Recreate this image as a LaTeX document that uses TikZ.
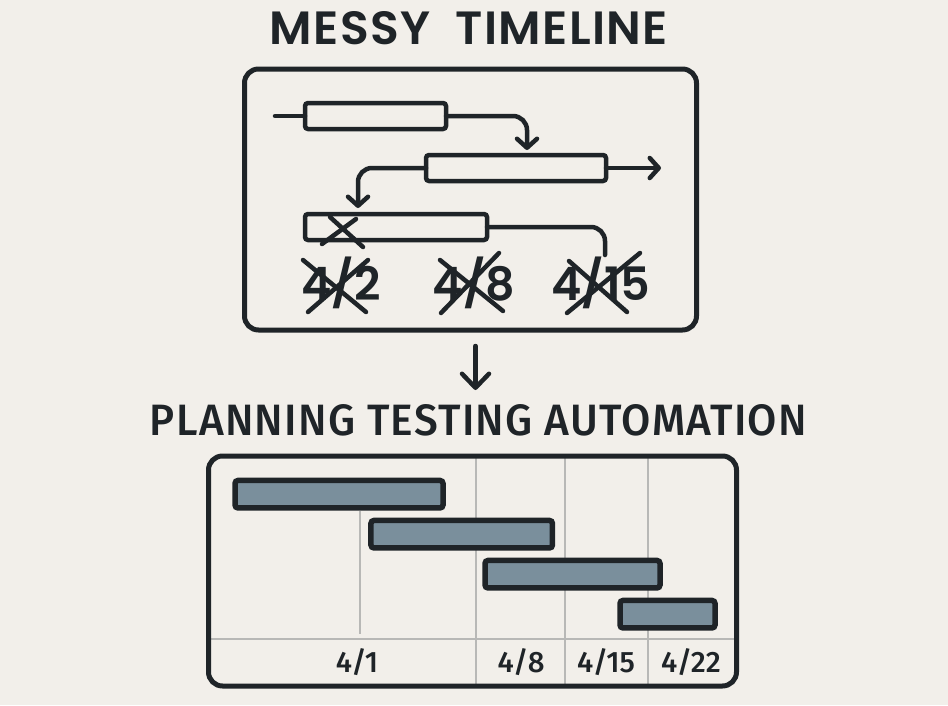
\documentclass[tikz,border=0pt]{standalone}
\usepackage{fontspec}
\setmainfont{Fira Sans Medium}
\newfontfamily\titlefont[LetterSpace=3]{Poppins SemiBold}
\newfontfamily\datefont{Poppins SemiBold}
\newfontfamily\subfont[LetterSpace=3]{Fira Sans Medium}
\usetikzlibrary{arrows.meta}
\definecolor{ink}{HTML}{1F2428}
\definecolor{paper}{HTML}{F2EFEA}
\definecolor{slate}{HTML}{7A8F9C}
\definecolor{gridc}{HTML}{B8B8B6}
\tikzset{
  x=1pt,y=-1pt,
  frame/.style={draw=ink,line width=5pt,rounded corners=14pt},
  plainbar/.style={draw=ink,line width=4.5pt,rounded corners=3pt,fill=paper,inner sep=0pt,outer sep=0pt},
  ganttbar/.style={draw=ink,line width=5.5pt,rounded corners=3pt,fill=slate,inner sep=0pt,outer sep=0pt},
  link/.style={draw=ink,line width=4.5pt,line cap=round,rounded corners=14pt},
  linkarrow/.style={link,-{Straight Barb[length=9pt,width=20pt,line width=4.5pt,round]}},
  bigarrow/.style={link,-{Straight Barb[length=14pt,width=27pt,line width=4.5pt,round]}},
  strike/.style={draw=ink,line width=4.5pt,line cap=round},
  gridline/.style={draw=gridc,line width=1.8pt},
  titletext/.style={text=ink,anchor=base,inner sep=0pt},
  datetext/.style={text=ink,anchor=base,inner sep=0pt,font=\datefont\fontsize{46}{50}\selectfont},
  axistext/.style={text=ink,anchor=base,inner sep=0pt,font=\fontsize{29.5}{32}\selectfont},
}
\begin{document}
\begin{tikzpicture}
\useasboundingbox[fill=paper] (0,0) rectangle (948,705);
\node[titletext] (title) at (469,44.5) {\resizebox{398pt}{33pt}{\titlefont MESSY\hspace{0.25em} TIMELINE}};
\node[titletext] (subtitle) at (478.5,435) {\resizebox{657pt}{31pt}{\subfont PLANNING TESTING AUTOMATION}};
% upper frame
\draw[frame] (244.5,69) rectangle (696.5,330);
\node[plainbar,minimum width=141pt,minimum height=26pt] (b1) at (375.5,116) {};
\node[plainbar,minimum width=180pt,minimum height=26pt] (b2) at (516,168) {};
\node[plainbar,minimum width=182pt,minimum height=26pt] (b3) at (396,227) {};
\coordinate (s0) at (275,116);
\coordinate (t1) at (527,150);
\coordinate (t2) at (661,168);
\coordinate (t3) at (358,208);
\coordinate (e3) at (605,255);
\draw[link] (s0) -- (b1.west);
\draw[linkarrow] (b1.east) -- (b1.east -| t1) -- (t1);
\draw[linkarrow] (b2.east) -- (t2);
\draw[linkarrow] (b2.west) -- (b2.west -| t3) -- (t3);
\draw[link] (b3.east) -- (b3.east -| e3) -- (e3);
\coordinate (xa) at (330,217); \coordinate (xb) at (363,247);
\coordinate (xc) at (356,219); \coordinate (xd) at (322,244);
\draw[strike] (xa) -- (xb); \draw[strike] (xc) -- (xd);
\node[datetext] (d1) at (341,300) {4/2};
\node[datetext] (d2) at (474,300) {4/8};
\node[datetext] (d3) at (601,300) {4/15};
\coordinate (a1) at (303,260); \coordinate (a2) at (366,312);
\coordinate (a3) at (368,260); \coordinate (a4) at (308,312);
\coordinate (c1) at (440,260); \coordinate (c2) at (503,311);
\coordinate (c3) at (499,253); \coordinate (c4) at (441,313);
\coordinate (f1) at (569,261); \coordinate (f2) at (627,312);
\coordinate (f3) at (640,253); \coordinate (f4) at (567,313);
\draw[strike] (a1) -- (a2); \draw[strike] (a3) -- (a4);
\draw[strike] (c1) -- (c2); \draw[strike] (c3) -- (c4);
\draw[strike] (f1) -- (f2); \draw[strike] (f3) -- (f4);
% middle arrow
\coordinate (m1) at (475.5,346); \coordinate (m2) at (475.5,390);
\draw[bigarrow] (m1) -- (m2);
% lower frame
\draw[gridline] (360.3,511) -- (360.3,634);
\draw[gridline] (475.7,456) -- (475.7,686);
\draw[gridline] (564.8,456) -- (564.8,686);
\draw[gridline] (648.3,456) -- (648.3,686);
\draw[gridline] (208.5,638.7) -- (736.5,638.7);
\draw[frame] (208.5,456) rectangle (736.5,686);
\node[ganttbar,minimum width=208pt,minimum height=27.5pt] (g1) at (339,494.2) {};
\node[ganttbar,minimum width=181.5pt,minimum height=27.5pt] (g2) at (461.7,534.2) {};
\node[ganttbar,minimum width=175pt,minimum height=27.5pt] (g3) at (572.5,574.2) {};
\node[ganttbar,minimum width=95pt,minimum height=27.5pt] (g4) at (667.5,614.2) {};
\node[axistext] (l1) at (357,672) {4/1};
\node[axistext] (l2) at (521,672) {4/8};
\node[axistext] (l3) at (606,672) {4/15};
\node[axistext] (l4) at (691,672) {4/22};
\end{tikzpicture}
\end{document}
